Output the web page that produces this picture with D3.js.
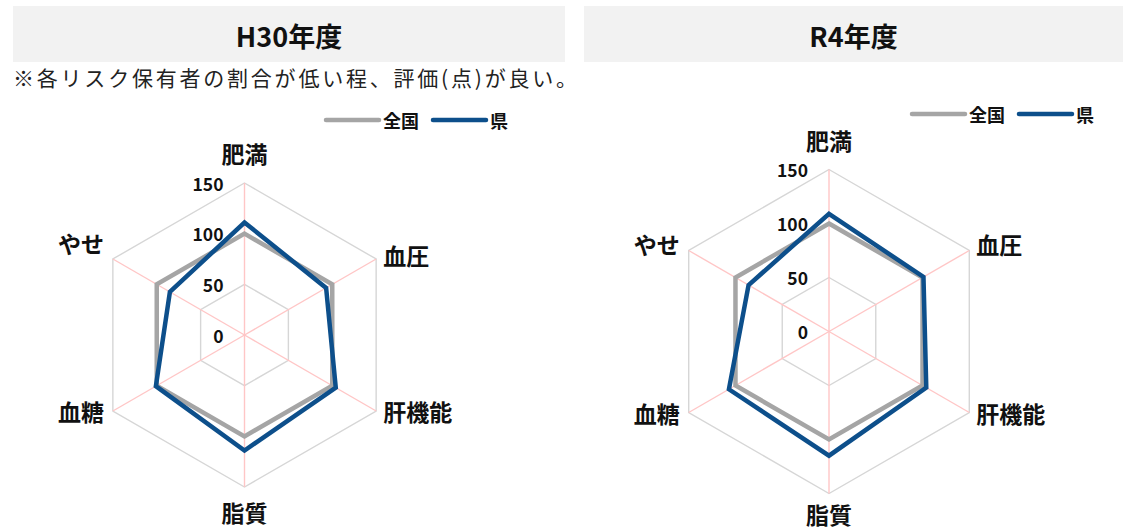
<!DOCTYPE html>
<html>
<head>
<meta charset="utf-8">
<script src="https://cdn.jsdelivr.net/npm/d3@7"></script>
<style>
  html, body { margin: 0; padding: 0; background: #ffffff; }
  svg { display: block; font-family: "Noto Sans CJK JP", "Noto Sans", sans-serif; }
</style>
</head>
<body>
<svg id="chart" width="1123" height="529"></svg>
<script>
// Risk categories (clockwise from top)
const categories = ["肥満", "血圧", "肝機能", "脂質", "血糖", "やせ"];
const seriesNames = ["全国", "県"];
const radialTicks = [0, 50, 100, 150];

// H30年度
const nationalH30 = [100, 100, 100, 100, 100, 100];
const prefH30 = [111, 93, 104, 114, 101, 85];

// R4年度
const nationalR4 = [100, 100, 100, 100, 100, 100];
const prefR4 = [109, 101, 104, 115, 107, 86];

const note = "※各リスク保有者の割合が低い程、評価(点)が良い。";

const svg = d3.select("#chart");
const colors = { national: "#a5a5a5", pref: "#0d4f8b" };

// per-panel label nudges for the two upper side labels [血圧, やせ]
const panels = [
  { title: "H30年度", box: [13, 6, 552, 56], cx: 244.5, cy: 335, R: 152,
    legendX: 326, legendY: 120, sideUp: { 1: -4, 5: -16 }, bottomGap: 25,
    national: nationalH30, pref: prefH30 },
  { title: "R4年度", box: [584, 6, 539, 56], cx: 829, cy: 331.5, R: 162,
    legendX: 912, legendY: 114, sideUp: { 1: -7, 5: -7 }, bottomGap: 20,
    national: nationalR4, pref: prefR4 }
];

const n = categories.length;
const angle = i => (i * 2 * Math.PI) / n;

panels.forEach(p => {
  const g = svg.append("g");

  // header band
  g.append("rect")
    .attr("x", p.box[0]).attr("y", p.box[1])
    .attr("width", p.box[2]).attr("height", p.box[3])
    .attr("fill", "#f2f2f2");
  g.append("text")
    .attr("x", p.box[0] + p.box[2] / 2).attr("y", p.box[1] + p.box[3] / 2 + 1)
    .attr("text-anchor", "middle").attr("dominant-baseline", "central")
    .attr("font-size", 27).attr("font-weight", 700).attr("fill", "#111")
    .text(p.title);

  const r = d3.scaleLinear().domain([0, 150]).range([0, p.R]);
  const plot = g.append("g").attr("transform", `translate(${p.cx},${p.cy})`);

  // ring grid
  const ring = d3.lineRadial()
    .angle((d, i) => angle(i))
    .radius(d => r(d))
    .curve(d3.curveLinearClosed);
  radialTicks.filter(t => t > 0).forEach(t => {
    plot.append("path")
      .attr("d", ring(categories.map(() => t)))
      .attr("fill", "none").attr("stroke", "#d6d6d6").attr("stroke-width", 1.4);
  });

  // spokes
  categories.forEach((c, i) => {
    const a = angle(i);
    plot.append("line")
      .attr("x1", 0).attr("y1", 0)
      .attr("x2", r(150) * Math.sin(a)).attr("y2", -r(150) * Math.cos(a))
      .attr("stroke", "#ffc6c6").attr("stroke-width", 1.4);
  });

  // series
  const line = d3.lineRadial()
    .angle((d, i) => angle(i))
    .radius(d => r(d))
    .curve(d3.curveLinearClosed);
  plot.append("path").attr("d", line(p.national))
    .attr("fill", "none").attr("stroke", colors.national)
    .attr("stroke-width", 4.5).attr("stroke-linejoin", "miter");
  plot.append("path").attr("d", line(p.pref))
    .attr("fill", "none").attr("stroke", colors.pref)
    .attr("stroke-width", 4.5).attr("stroke-linejoin", "miter");

  // value axis labels
  radialTicks.forEach(t => {
    plot.append("text")
      .attr("x", -21).attr("y", -r(t))
      .attr("text-anchor", "end").attr("dominant-baseline", "central")
      .attr("font-size", 17.5).attr("font-weight", 700).attr("fill", "#111")
      .text(t);
  });

  // category labels
  categories.forEach((c, i) => {
    const a = angle(i);
    const vx = r(150) * Math.sin(a), vy = -r(150) * Math.cos(a);
    let x = vx, y = vy, anchor = "middle";
    if (i === 0) { y = vy - 30; }
    else if (i === 3) { y = vy + p.bottomGap; }
    else if (vx > 0) { x = vx + 7; anchor = "start"; }
    else { x = vx - 9; anchor = "end"; }
    if (p.sideUp[i] !== undefined) y = vy + p.sideUp[i];
    plot.append("text")
      .attr("x", x).attr("y", y)
      .attr("text-anchor", anchor).attr("dominant-baseline", "central")
      .attr("font-size", 23).attr("font-weight", 700).attr("fill", "#111")
      .text(c);
  });

  // legend
  const lg = g.append("g").attr("transform", `translate(${p.legendX},${p.legendY})`);
  const items = [
    { name: seriesNames[0], color: colors.national, x: 0 },
    { name: seriesNames[1], color: colors.pref, x: 107 }
  ];
  items.forEach(it => {
    lg.append("line").attr("x1", it.x).attr("x2", it.x + 53)
      .attr("y1", 0).attr("y2", 0)
      .attr("stroke", it.color).attr("stroke-width", 4.5).attr("stroke-linecap", "round");
    lg.append("text").attr("x", it.x + 57).attr("y", 0)
      .attr("dominant-baseline", "central")
      .attr("font-size", 18).attr("font-weight", 700).attr("fill", "#111")
      .text(it.name);
  });
});

// footnote
svg.append("text")
  .attr("x", 13).attr("y", 77)
  .attr("dominant-baseline", "central")
  .attr("font-size", 21).attr("fill", "#222")
  .attr("textLength", 564).attr("lengthAdjust", "spacing")
  .text(note);
</script>
</body>
</html>
